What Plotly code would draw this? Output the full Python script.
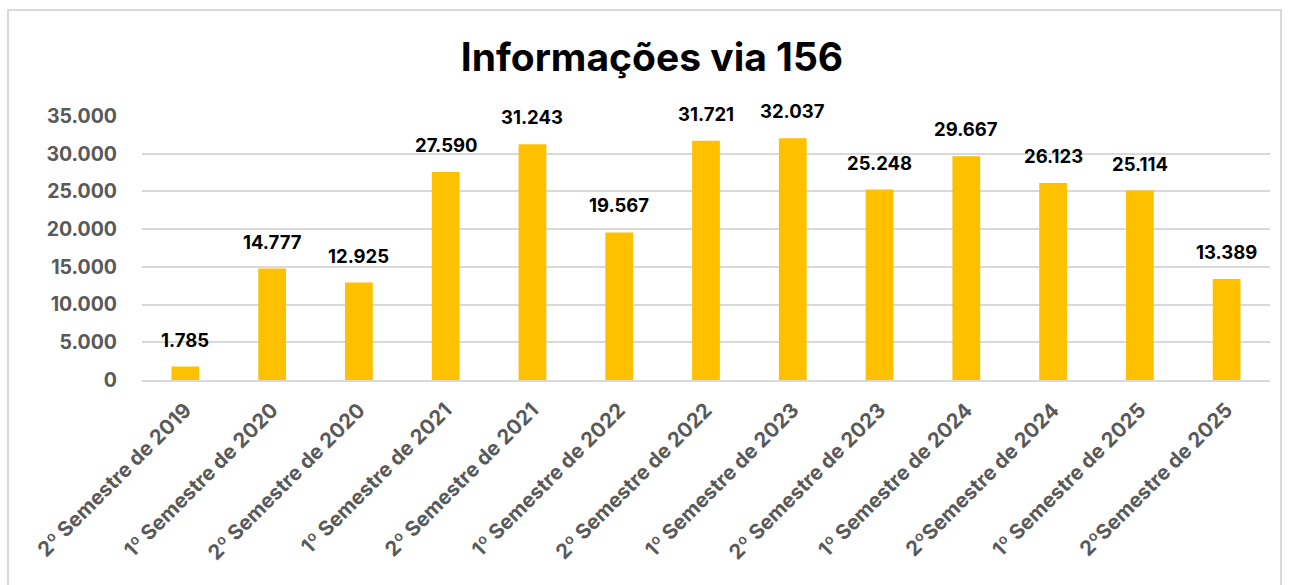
import plotly.graph_objects as go

# Semesters and number of 156 information requests
semestres = [
    "2º Semestre de 2019", "1º Semestre de 2020", "2º Semestre de 2020",
    "1º Semestre de 2021", "2º Semestre de 2021", "1º Semestre de 2022",
    "2º Semestre de 2022", "1º Semestre de 2023", "2º Semestre de 2023",
    "1º Semestre de 2024", "2ºSemestre de 2024", "1º Semestre de 2025",
    "2ºSemestre de 2025",
]
informacoes = [1785, 14777, 12925, 27590, 31243, 19567, 31721, 32037,
               25248, 29667, 26123, 25114, 13389]
y_ticks = [0, 5000, 10000, 15000, 20000, 25000, 30000, 35000]

FONT = "Inter"
W, H = 1289, 585
L, R, T, B = 142, 19, 116, 205
pw, ph = W - L - R, H - T - B

fig = go.Figure()
fig.add_trace(go.Bar(
    x=semestres,
    y=informacoes,
    marker=dict(color="#FFC000", line=dict(width=0)),
    hoverinfo="x+y",
))

# value labels above the bars
for s, v in zip(semestres, informacoes):
    fig.add_annotation(
        x=s, y=v, text=f"{v:,}".replace(",", "."),
        showarrow=False, yanchor="bottom", yshift=14,
        font=dict(family=FONT, size=18.5, color="#000000", weight="bold"),
    )

# light grey frame around the whole chart
fig.add_shape(
    type="rect", xref="paper", yref="paper",
    x0=(8 - L) / pw, x1=(1281 - L) / pw,
    y0=-(600 - (H - B)) / ph, y1=((H - B) - 10) / ph,
    line=dict(color="#D9D9D9", width=2), fillcolor="rgba(0,0,0,0)",
    layer="below",
)

fig.update_layout(
    width=W, height=H,
    separators=",.",
    title=dict(
        text="Informações via 156",
        x=(652 - L) / pw, xref="paper", xanchor="center",
        y=1 - 57 / H, yanchor="middle",
        font=dict(family=FONT, size=39, color="#000000", weight="bold"),
    ),
    margin=dict(l=L, r=R, t=T, b=B),
    plot_bgcolor="white",
    paper_bgcolor="white",
    bargap=0.68,
    showlegend=False,
    xaxis=dict(
        tickangle=-45,
        tickfont=dict(family=FONT, size=20.5, color="#595959", weight="bold"),
        showgrid=False,
        showline=True, linecolor="#D9D9D9", linewidth=2,
        ticks="",
        ticklabelstandoff=8,
    ),
    yaxis=dict(
        range=[0, 35000],
        tickvals=y_ticks,
        tickformat=",",
        tickfont=dict(family=FONT, size=19.5, color="#595959", weight="bold"),
        showgrid=True, gridcolor="#D9D9D9", gridwidth=2,
        zeroline=False,
        ticklabelstandoff=24,
    ),
)

fig.write_html("out.html", config={"displayModeBar": False},
               post_script="document.body.style.margin='0';")
